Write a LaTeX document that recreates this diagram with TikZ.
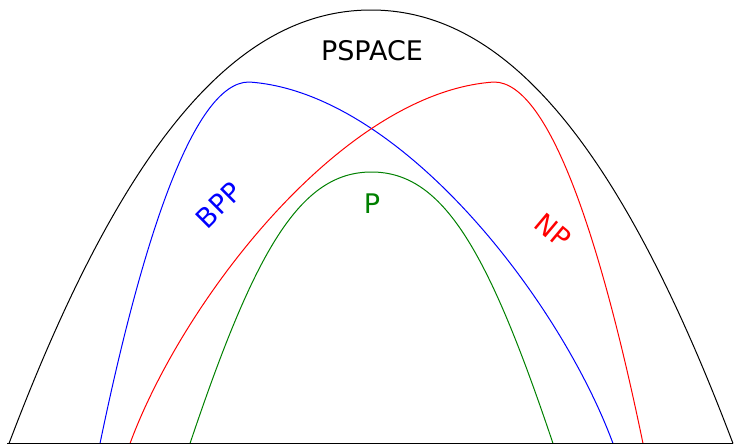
\documentclass[tikz,border=0pt]{standalone}
\usepackage{fontspec}
\setmainfont{DejaVu Sans}
\definecolor{pgreen}{RGB}{0,128,0}
\begin{document}
\begin{tikzpicture}[x=1pt,y=-1pt,
  curve/.style={line width=1pt},
  lbl/.style={font=\fontsize{27}{31}\selectfont, inner sep=0pt}]
\useasboundingbox (0,0) rectangle (735,445);
% PSPACE
\draw[curve,black] (9,443.5) .. controls (122,145) and (236,10) .. (371,10)
  .. controls (506,10) and (620,145) .. (733,443.5);
% BPP
\draw[curve,blue] (100,443.5) .. controls (140,250) and (192,82) .. (249,82)
  .. controls (400,92) and (560,300) .. (613,443.5);
% NP (mirror of BPP about x = 371.5)
\draw[curve,red] (643,443.5) .. controls (603,250) and (551,82) .. (494,82)
  .. controls (343,92) and (183,300) .. (130,443.5);
% P
\draw[curve,pgreen] (190,443.5) .. controls (255,250) and (300,172) .. (371.5,172)
  .. controls (443,172) and (488,250) .. (553,443.5);
% base line
\draw[line width=1.6pt] (7,443.5) -- (733,443.5);
% labels
\node[lbl] (pspace) at (372,51) {PSPACE};
\node[lbl,blue,rotate=45] (bpp) at (219,205) {BPP};
\node[lbl,red,rotate=-40] (np) at (553,231) {NP};
\node[lbl,pgreen] (p) at (372,204) {P};
\end{tikzpicture}
\end{document}
